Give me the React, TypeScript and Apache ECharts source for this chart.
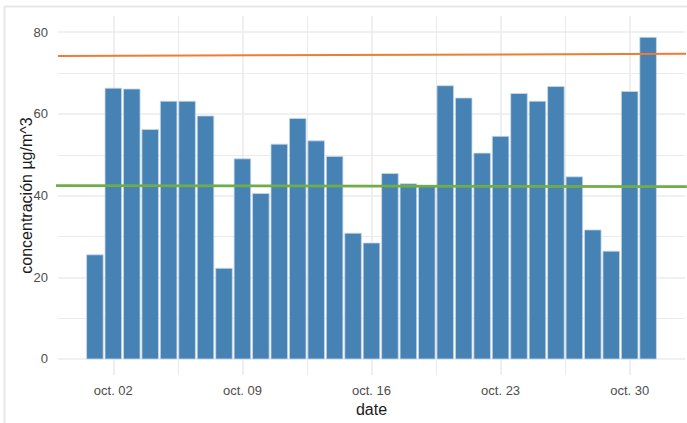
import React, { useEffect, useRef } from "react";
import * as echarts from "echarts";

const days = [1, 2, 3, 4, 5, 6, 7, 8, 9, 10, 11, 12, 13, 14, 15, 16, 17, 18, 19, 20, 21, 22, 23, 24, 25, 26, 27, 28, 29, 30, 31];
const concentration = [
  25.5, 66.3, 66.1, 56.2, 63.1, 63.1, 59.5, 22.2, 49.0, 40.5,
  52.6, 58.9, 53.4, 49.6, 30.8, 28.4, 45.4, 42.9, 42.3, 66.9,
  63.9, 50.4, 54.5, 65.0, 63.1, 66.7, 44.6, 31.6, 26.4, 65.5, 78.75,
];
const xTickDays = [2, 9, 16, 23, 30];
const xTickLabels = ["oct. 02", "oct. 09", "oct. 16", "oct. 23", "oct. 30"];
const xMinorDays = [5.5, 12.5, 19.5, 26.5];
const yTicks = [0, 20, 40, 60, 80];
const yMinorTicks = [10, 30, 50, 70];
const orangeLineX = [-1, 33.1];
const orangeLineY = [74.2, 74.7];
const greenLineX = [-1.28, 33.1];
const greenLineY = [42.45, 42.2];

const FONT = "'Liberation Sans', Arial, sans-serif";

export default function App() {
  const ref = useRef<HTMLDivElement>(null);

  useEffect(() => {
    if (!ref.current) return;
    const chart = echarts.init(ref.current, undefined, { renderer: "svg" });
    const gridColor = "#ebebeb";
    const option: any = {
      animation: false,
      backgroundColor: "#ffffff",
      textStyle: { fontFamily: FONT },
      grid: { left: 58, right: 2, top: 16, bottom: 48, containLabel: false },
      xAxis: [
        {
          type: "value",
          min: -1,
          max: 33,
          name: "date",
          nameLocation: "middle",
          nameGap: 26,
          nameMoveOverlap: false,
          nameTextStyle: { fontFamily: FONT, fontSize: 16, color: "#1a1a1a" },
          axisLine: { show: false },
          axisTick: { show: false, customValues: xTickDays },
          axisLabel: {
            customValues: xTickDays,
            formatter: (v: number) => {
              const i = xTickDays.indexOf(Math.round(v));
              return i >= 0 ? xTickLabels[i] : "";
            },
            color: "#4d4d4d",
            fontFamily: FONT,
            fontSize: 13,
            margin: 9,
          },
          splitLine: { show: true, lineStyle: { color: gridColor, width: 1.6 } },
        },
        {
          type: "value",
          min: -1,
          max: 33,
          position: "bottom",
          axisLine: { show: false },
          axisTick: { show: false, customValues: xMinorDays },
          axisLabel: { show: false },
          splitLine: { show: true, lineStyle: { color: gridColor, width: 1 } },
        },
      ],
      yAxis: [
        {
          type: "value",
          min: -3.92,
          max: 83.97,
          name: "concentración µg/m^3",
          nameLocation: "middle",
          nameGap: 24,
          nameRotate: 90,
          nameMoveOverlap: false,
          nameTextStyle: { fontFamily: FONT, fontSize: 16, color: "#1a1a1a" },
          axisLine: { show: false },
          axisTick: { show: false, customValues: yTicks },
          axisLabel: {
            customValues: yTicks,
            color: "#4d4d4d",
            fontFamily: FONT,
            fontSize: 13,
            margin: 10,
          },
          splitLine: { show: true, lineStyle: { color: gridColor, width: 1.6 } },
        },
        {
          type: "value",
          min: -3.92,
          max: 83.97,
          position: "left",
          axisLine: { show: false },
          axisTick: { show: false, customValues: yMinorTicks },
          axisLabel: { show: false },
          splitLine: { show: true, lineStyle: { color: gridColor, width: 1 } },
        },
      ],
      graphic: [
        {
          type: "rect",
          shape: { x: 4.5, y: 6.5, width: 720, height: 440 },
          style: { fill: "none", stroke: "#e8e8e8", lineWidth: 2 },
          silent: true,
          z: -1,
        },
      ],
      series: [
        {
          type: "custom",
          xAxisIndex: 0,
          yAxisIndex: 0,
          z: 2,
          encode: { x: 0, y: 1 },
          data: days.map((d, i) => [d, concentration[i]]),
          renderItem: (_params: any, api: any) => {
            const d = api.value(0);
            const v = api.value(1);
            const p0 = api.coord([d - 0.45, v]);
            const p1 = api.coord([d + 0.45, 0]);
            return {
              type: "rect",
              shape: { x: p0[0], y: p0[1], width: p1[0] - p0[0], height: p1[1] - p0[1] },
              style: { fill: "#4682B4", stroke: "#c9d8e8", lineWidth: 0.8 },
            };
          },
        },
        {
          type: "line",
          xAxisIndex: 0,
          yAxisIndex: 0,
          z: 3,
          clip: false,
          symbol: "none",
          data: orangeLineX.map((x, i) => [x, orangeLineY[i]]),
          lineStyle: { color: "#ED7D31", width: 2 },
        },
        {
          type: "line",
          xAxisIndex: 0,
          yAxisIndex: 0,
          z: 3,
          clip: false,
          symbol: "none",
          data: greenLineX.map((x, i) => [x, greenLineY[i]]),
          lineStyle: { color: "#70AD47", width: 2.8 },
        },
      ],
    };
    chart.setOption(option);
    return () => chart.dispose();
  }, []);

  return (
    <div
      ref={ref}
      style={{ position: "fixed", left: 0, top: 0, width: 687, height: 423, background: "#fff" }}
    />
  );
}
